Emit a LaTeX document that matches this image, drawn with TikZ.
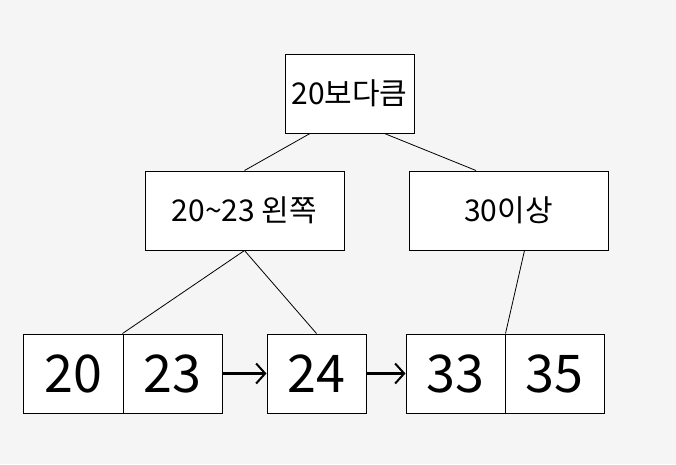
\documentclass[tikz,border=0pt]{standalone}
\usepackage{fontspec}
\setmainfont{Noto Sans CJK KR}
\usetikzlibrary{arrows.meta}
\usetikzlibrary{calc}
\tikzset{
	keybox/.style={draw, fill=white, line width=1pt, inner sep=0pt, minimum height=79pt},
	leafkey/.style={keybox, minimum width=99pt, font=\fontsize{52}{56}\selectfont},
	innerkey/.style={keybox, minimum width=199pt, font=\fontsize{30}{34}\selectfont},
	branch/.style={line width=0.8pt},
	nextleaf/.style={line width=2.5pt, -{Straight Barb[length=9pt,width=20pt,line width=2pt]}}
}

\begin{document}
\begin{tikzpicture}[x=1pt,y=-1pt]
		\fill[black!4] (0,0) rectangle (676,464);
		\useasboundingbox (0,0) rectangle (676,464);
		\node[keybox, minimum width=129pt, font=\fontsize{30}{34}\selectfont] (root) at (349.5,93.5) {20보다큼};
		\node[innerkey] (lower) at (244.5,210.5) {20\textasciitilde23 왼쪽};
		\node[innerkey] (upper) at (508.5,210.5) {30이상};
		\node[leafkey, minimum width=100pt] (k20) at (73,373.5) {20};
		\node[leafkey] (k23) at (172.5,373.5) {23};
		\node[leafkey] (k24) at (316.5,373.5) {24};
		\node[leafkey] (k33) at (455.5,373.5) {33};
		\node[leafkey] (k35) at (554.5,373.5) {35};
		\draw[branch] ([xshift=-39.5pt]root.south) -- (lower.north);
		\draw[branch] ([xshift=35pt]root.south) -- ([xshift=-32.5pt]upper.north);
		\draw[branch] (lower.south) -- (k23.north west);
		\draw[branch] (lower.south) -- (k24.north);
		\draw[branch] ([xshift=16pt]upper.south) -- (k33.north east);
		\draw[nextleaf] (k23.east) -- (k24.west);
		\draw[nextleaf] (k24.east) -- (k33.west);
\end{tikzpicture}
\end{document}
